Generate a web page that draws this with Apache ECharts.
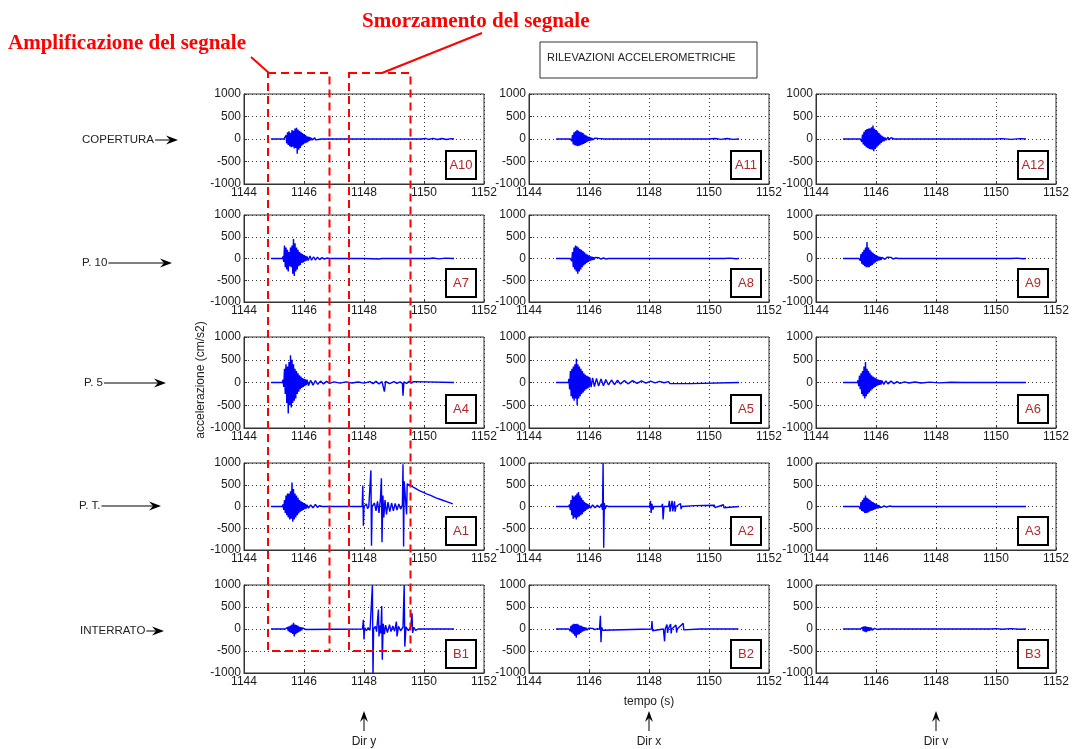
<!DOCTYPE html>
<html><head><meta charset="utf-8">
<script src="https://cdn.jsdelivr.net/npm/echarts@6/dist/echarts.min.js"></script>
<style>html,body{margin:0;padding:0;background:#fff}#c{width:1075px;height:749px}</style>
</head><body><div id="c"></div>
<script>
// ---------------- DATA ----------------
const panelNames = [['A10','A11','A12'],['A7','A8','A9'],['A4','A5','A6'],['A1','A2','A3'],['B1','B2','B3']];
const rowLabels = ['COPERTURA','P. 10','P. 5','P. T.','INTERRATO'];
const dirLabels = ['Dir y','Dir x','Dir v'];
const xMin = 1144, xMax = 1152, xStep = 2;
const yMin = -1000, yMax = 1000, yStep = 500;
const burstDt = 0.025; // sampling step of the strong-motion burst readings (s)

// burst readings (alternating peaks) + start time, and sparse readings [t, a]
const A10_start = 1145.35;
const A10_burst = [30,-40,80,-100,150,-130,170,-160,140,-180,200,-170,180,-210,230,-200,250,-330,210,-240,180,-200,160,-150,130,-120,110,-100,90,-80,60,-70,50,-40,40,-30,25,-20,15,-10];
const A10_pts = [[1144.9,0],[1145.33,0],[1146.36,25],[1146.39,-20],[1146.43,15],[1146.47,-12],[1146.52,10],[1146.58,0],[1149.9,0],[1150.05,12],[1150.15,-10],[1150.3,14],[1150.45,-12],[1150.6,10],[1150.75,-10],[1150.9,8],[1151,0]];

const A11_start = 1145.4;
const A11_burst = [40,-50,90,-120,150,-140,170,-150,200,-160,180,-150,160,-140,150,-120,130,-110,100,-90,80,-70,60,-50,45,-40,35,-30,25,-20,15,-10];
const A11_pts = [[1144.9,0],[1145.38,0],[1146.2,20],[1146.24,-15],[1146.3,12],[1146.36,-10],[1146.42,8],[1146.5,0],[1150.0,0],[1150.2,10],[1150.4,-8],[1150.6,10],[1150.8,-8],[1151,0]];

const A12_start = 1145.5;
const A12_burst = [40,-60,100,-120,160,-150,200,-180,220,-200,230,-220,240,-230,260,-240,300,-270,230,-220,200,-190,170,-150,130,-120,100,-90,70,-60,50,-45];
const A12_pts = [[1144.9,0],[1145.48,0],[1146.3,30],[1146.34,-25],[1146.4,40],[1146.44,-20],[1146.5,30],[1146.55,-10],[1146.6,0],[1150.0,0],[1150.2,8],[1150.5,-8],[1150.8,8],[1151,0]];

const A7_start = 1145.3;
const A7_burst = [50,-80,300,-200,250,-250,200,-300,150,-180,250,-200,300,-350,450,-400,350,-300,250,-250,200,-180,150,-150,120,-100,100,-90,80,-70,60,-50];
const A7_pts = [[1144.9,0],[1145.28,0],[1146.1,50],[1146.14,-45],[1146.2,60],[1146.25,-40],[1146.32,40],[1146.38,-35],[1146.45,30],[1146.52,-25],[1146.6,20],[1146.68,-15],[1146.76,10],[1146.85,0],[1148.0,0],[1148.5,-10],[1148.6,0],[1149.6,0],[1149.65,-10],[1149.7,0],[1150.2,0],[1150.3,10],[1150.5,-8],[1150.7,8],[1151,0]];

const A8_start = 1145.4;
const A8_burst = [40,-60,150,-200,250,-250,300,-300,280,-350,250,-300,220,-250,200,-200,170,-160,140,-130,110,-100,90,-80,70,-60,50,-45,40,-35,30,-25];
const A8_pts = [[1144.9,0],[1145.38,0],[1146.2,25],[1146.25,-20],[1146.32,18],[1146.4,-15],[1146.48,12],[1146.56,-10],[1146.65,0],[1150.5,0],[1150.7,8],[1150.9,-6],[1151,0]];

const A9_start = 1145.45;
const A9_burst = [40,-50,100,-120,150,-150,200,-180,250,-200,380,-200,250,-200,200,-170,160,-150,130,-120,100,-90,80,-70,60,-50,45,-40,35,-30,25,-20];
const A9_pts = [[1144.9,0],[1145.43,0],[1146.25,20],[1146.3,-18],[1146.37,30],[1146.43,-15],[1146.5,25],[1146.57,-12],[1146.65,10],[1146.75,0],[1150.5,0],[1150.7,8],[1150.9,-6],[1151,0]];

const A4_start = 1145.3;
const A4_burst = [60,-100,300,-250,400,-450,350,-680,450,-500,600,-550,500,-450,400,-400,300,-350,250,-250,200,-200,160,-150,130,-120,100,-100,80,-80,70,-60];
const A4_pts = [[1144.9,0],[1145.28,0],[1146.1,60],[1146.15,-70],[1146.22,50],[1146.3,-60],[1146.38,40],[1146.46,-40],[1146.55,30],[1146.65,-30],[1146.75,25],[1146.85,-20],[1147.0,15],[1147.2,-15],[1147.4,15],[1147.6,-12],[1147.8,10],[1148.0,-15],[1148.2,20],[1148.3,-25],[1148.4,25],[1148.5,-30],[1148.6,20],[1148.68,-200],[1148.72,25],[1148.85,-25],[1149.0,20],[1149.1,-20],[1149.2,15],[1149.28,-20],[1149.3,-290],[1149.33,15],[1149.42,-20],[1149.5,25],[1149.58,-15],[1149.65,20],[1149.7,0],[1151,0]];

const A5_start = 1145.33;
const A5_burst = [80,-150,250,-300,300,-350,350,-400,400,-350,520,-500,400,-350,350,-300,300,-250,250,-220,200,-180,170,-150,150,-130,130,-110];
const A5_pts = [[1144.9,0],[1145.31,0],[1146.03,110],[1146.07,-100],[1146.12,100],[1146.18,-90],[1146.25,90],[1146.32,-80],[1146.4,80],[1146.48,-70],[1146.56,65],[1146.65,-55],[1146.75,55],[1146.85,-45],[1146.95,50],[1147.05,-35],[1147.18,45],[1147.3,-30],[1147.45,40],[1147.6,-20],[1147.75,35],[1147.9,-15],[1148.05,30],[1148.2,-10],[1148.35,25],[1148.5,-5],[1148.65,20],[1148.7,-25],[1149.4,-25],[1149.42,0],[1151,0]];

const A6_start = 1145.4;
const A6_burst = [50,-80,150,-150,200,-250,250,-300,350,-350,450,-300,300,-250,250,-220,200,-180,160,-150,130,-120,110,-100,90,-80,70,-60,60,-50,50,-40];
const A6_pts = [[1144.9,0],[1145.38,0],[1146.2,40],[1146.26,-40],[1146.33,35],[1146.4,-30],[1146.5,30],[1146.6,-25],[1146.7,20],[1146.8,-18],[1146.95,15],[1147.1,-12],[1147.3,10],[1147.5,-10],[1147.8,8],[1148.1,-8],[1148.5,6],[1148.9,0],[1151,0]];

const A1_start = 1145.3;
const A1_burst = [50,-80,150,-150,250,-200,300,-250,300,-300,350,-280,550,-350,400,-300,300,-250,250,-200,200,-160,150,-120,120,-100,100,-80,80,-60,60,-50];
const A1_pts = [[1144.9,0],[1145.28,0],[1146.1,40],[1146.15,-40],[1146.22,35],[1146.3,-30],[1146.38,50],[1146.45,-20],[1146.52,20],[1146.6,0],[1147.94,0],[1147.96,480],[1147.98,-440],[1148.0,0],[1148.08,60],[1148.12,-50],[1148.16,0],[1148.23,830],[1148.25,-900],[1148.27,0],[1148.35,80],[1148.4,-100],[1148.45,120],[1148.5,-150],[1148.55,200],[1148.58,650],[1148.6,-820],[1148.63,250],[1148.66,-250],[1148.7,150],[1148.75,-180],[1148.8,100],[1148.86,-120],[1148.92,80],[1148.98,-100],[1149.04,70],[1149.1,-80],[1149.16,60],[1149.22,-60],[1149.28,40],[1149.3,970],[1149.32,-920],[1149.34,580],[1149.4,540],[1149.42,-180],[1149.44,520],[1149.5,500],[1149.6,460],[1149.7,420],[1149.8,380],[1149.9,350],[1150.0,320],[1150.05,350],[1150.08,290],[1150.2,260],[1150.4,200],[1150.6,150],[1150.8,100],[1150.96,60]];

const A2_start = 1145.35;
const A2_burst = [50,-80,150,-200,250,-280,230,-250,260,-300,300,-250,330,-230,250,-200,200,-180,150,-130,110,-100,80,-70,60,-50];
const A2_pts = [[1144.9,0],[1145.33,0],[1146.0,45],[1146.05,-40],[1146.12,35],[1146.2,-30],[1146.28,30],[1146.35,-25],[1146.42,60],[1146.45,-80],[1146.47,1000],[1146.49,-950],[1146.51,80],[1146.54,-60],[1146.58,20],[1146.65,0],[1148.02,0],[1148.05,130],[1148.07,-150],[1148.1,60],[1148.13,-70],[1148.16,0],[1148.42,0],[1148.45,60],[1148.47,-300],[1148.5,0],[1148.65,0],[1148.68,130],[1148.7,-120],[1148.73,0],[1148.77,130],[1148.79,-110],[1148.82,0],[1148.85,120],[1148.87,-120],[1148.9,0],[1149.05,70],[1149.07,-60],[1149.1,0],[1149.52,20],[1149.54,-15],[1149.56,0],[1150.18,30],[1150.2,-25],[1150.22,0],[1150.48,40],[1150.5,-30],[1150.52,0],[1151,0]];

const A3_start = 1145.45;
const A3_burst = [40,-60,100,-100,150,-120,200,-150,250,-150,200,-140,180,-120,150,-100,120,-90,100,-80,80,-60,60,-50,45,-40,30,-25];
const A3_pts = [[1144.9,0],[1145.43,0],[1146.15,20],[1146.2,-18],[1146.27,15],[1146.35,-12],[1146.45,10],[1146.55,0],[1151,0]];

const B1_start = 1145.4;
const B1_burst = [20,-25,40,-50,60,-70,80,-90,100,-110,140,-170,100,-120,90,-90,70,-70,50,-50,40,-30,25,-20];
const B1_pts = [[1144.9,0],[1145.38,0],[1146.0,15],[1146.05,-10],[1146.1,0],[1147.95,0],[1147.98,210],[1148.0,-240],[1148.02,30],[1148.08,-40],[1148.14,30],[1148.2,-30],[1148.26,0],[1148.28,1000],[1148.3,-1100],[1148.32,0],[1148.38,60],[1148.42,-60],[1148.48,440],[1148.5,-170],[1148.53,80],[1148.56,-100],[1148.59,520],[1148.61,-700],[1148.64,120],[1148.68,-120],[1148.72,90],[1148.78,-80],[1148.85,100],[1148.9,-60],[1148.96,70],[1149.02,-50],[1149.08,170],[1149.1,-170],[1149.15,60],[1149.22,-40],[1149.3,40],[1149.34,1000],[1149.36,-400],[1149.4,50],[1149.48,-40],[1149.56,60],[1149.6,360],[1149.62,-90],[1149.66,40],[1149.72,-30],[1149.8,0],[1151,0]];

const B2_start = 1145.35;
const B2_burst = [40,-50,70,-80,100,-110,120,-150,110,-200,120,-130,100,-120,80,-90,70,-60,50,-50,40,-30,30,-25,20,-15];
const B2_pts = [[1144.9,0],[1145.33,0],[1146.0,20],[1146.05,-15],[1146.12,15],[1146.2,-12],[1146.28,10],[1146.35,-8],[1146.38,300],[1146.4,-300],[1146.42,40],[1146.46,-30],[1146.5,0],[1148.08,0],[1148.1,180],[1148.12,-40],[1148.14,0],[1148.48,0],[1148.5,40],[1148.52,-280],[1148.54,0],[1148.6,100],[1148.62,-90],[1148.64,0],[1148.72,110],[1148.74,-100],[1148.76,0],[1148.9,90],[1148.92,-80],[1148.94,0],[1149.14,130],[1149.16,-20],[1149.18,0],[1149.7,0],[1149.72,25],[1149.74,-15],[1149.76,0],[1150.2,0],[1150.22,40],[1150.24,-30],[1150.26,0],[1150.58,0],[1150.6,40],[1150.62,-30],[1150.64,0],[1150.98,0]];

const B3_start = 1145.5;
const B3_burst = [20,-30,40,-50,60,-60,60,-70,50,-50,40,-40,35,-30,30,-25,20,-20,15,-10];
const B3_pts = [[1144.9,0],[1145.48,0],[1146.0,15],[1146.05,-10],[1146.1,10],[1146.15,0],[1149.8,0],[1150.0,8],[1150.2,-6],[1150.5,8],[1150.8,-6],[1151,0]];

// annotation time spans (col 1) and the lower limit of the dashed boxes
const ampSpan = [1144.8, 1146.85];
const smzSpan = [1147.5, 1149.55];
const boxBottomValue = -500;

// ---------------- LAYOUT ----------------
const signals = {
  A10:[A10_start,A10_burst,A10_pts], A11:[A11_start,A11_burst,A11_pts], A12:[A12_start,A12_burst,A12_pts],
  A7:[A7_start,A7_burst,A7_pts], A8:[A8_start,A8_burst,A8_pts], A9:[A9_start,A9_burst,A9_pts],
  A4:[A4_start,A4_burst,A4_pts], A5:[A5_start,A5_burst,A5_pts], A6:[A6_start,A6_burst,A6_pts],
  A1:[A1_start,A1_burst,A1_pts], A2:[A2_start,A2_burst,A2_pts], A3:[A3_start,A3_burst,A3_pts],
  B1:[B1_start,B1_burst,B1_pts], B2:[B2_start,B2_burst,B2_pts], B3:[B3_start,B3_burst,B3_pts]
};
function buildSeries(name){
  const [t0, burst, pts] = signals[name];
  const d = pts.map(p => [p[0], p[1]]);
  burst.forEach((v, i) => d.push([+(t0 + i*burstDt).toFixed(4), v]));
  d.sort((a,b) => a[0]-b[0]);
  return d;
}
const colLeft = [244, 529, 816];
const colW = 240;
const rowTop = [94, 215, 337, 463, 585];
const rowH = [90, 87, 91, 87, 88];
const labelY = [140, 263, 383, 506, 631];
const labelX = [82, 82, 84, 79, 80];
const arrowEnd = [178, 172, 166, 161, 164];
const FONT = 'Liberation Sans, Arial, sans-serif';
const LABEL_FONT = '11.5px ' + FONT;
const numFmt = v => String(v);

const grids = [], xAxes = [], yAxes = [], series = [], graphics = [];
panelNames.forEach((row, r) => row.forEach((name, c) => {
  const i = r*3 + c;
  grids.push({left: colLeft[c], top: rowTop[r], width: colW, height: rowH[r], show: true, borderColor: '#333', borderWidth: 1, backgroundColor: '#fff'});
  xAxes.push({gridIndex: i, type: 'value', min: xMin, max: xMax, interval: xStep,
    axisLine: {show: true, onZero: false, lineStyle: {color: '#333'}},
    axisTick: {show: true, inside: true, length: 3, lineStyle: {color: '#333'}},
    axisLabel: {color: '#1a1a1a', fontSize: 12, margin: 3, fontFamily: FONT, showMinLabel: true, showMaxLabel: true, formatter: numFmt},
    splitLine: {show: true, lineStyle: {type: [1, 3], color: '#333', width: 1}}});
  yAxes.push({gridIndex: i, type: 'value', min: yMin, max: yMax, interval: yStep,
    axisLine: {show: true, onZero: false, lineStyle: {color: '#333'}},
    axisTick: {show: true, inside: true, length: 3, lineStyle: {color: '#333'}},
    axisLabel: {color: '#1a1a1a', fontSize: 12, margin: 3, fontFamily: FONT, showMinLabel: true, showMaxLabel: true, formatter: numFmt},
    splitLine: {show: true, lineStyle: {type: [1, 3], color: '#333', width: 1}}});
  series.push({type: 'line', name, xAxisIndex: i, yAxisIndex: i, data: buildSeries(name),
    showSymbol: false, symbol: 'none', clip: true, silent: true, animation: false,
    lineStyle: {width: 1.4, color: '#0000ff'}, z: 3});
  // station tag box
  const bw = 30, bh = 28;
  const bx = colLeft[c] + colW - 8 - bw, by = rowTop[r] + rowH[r] - 5 - bh;
  graphics.push({type: 'rect', shape: {x: bx, y: by, width: bw, height: bh}, style: {fill: '#fff', stroke: '#000', lineWidth: 2}, z: 10});
  graphics.push({type: 'text', x: bx + bw/2, y: by + bh/2, style: {text: name, fill: '#b0282c', font: '13px ' + FONT, textAlign: 'center', textVerticalAlign: 'middle'}, z: 11});
}));

// row labels with arrows starting right after the text
const mctx = document.createElement('canvas').getContext('2d');
mctx.font = LABEL_FONT;
function arrowH(x0, x1, y){
  graphics.push({type: 'line', shape: {x1: x0, y1: y, x2: x1 - 6, y2: y}, style: {stroke: '#000', lineWidth: 1}});
  graphics.push({type: 'polygon', shape: {points: [[x1, y], [x1 - 12, y - 4.5], [x1 - 8, y], [x1 - 12, y + 4.5]]}, style: {fill: '#000'}});
}
rowLabels.forEach((txt, r) => {
  graphics.push({type: 'text', x: labelX[r], y: labelY[r], style: {text: txt, fill: '#222', font: LABEL_FONT, textVerticalAlign: 'middle'}, z: 5});
  arrowH(labelX[r] + mctx.measureText(txt).width + 1, arrowEnd[r], labelY[r]);
});

// direction arrows
dirLabels.forEach((t, c) => {
  const x = colLeft[c] + colW/2;
  graphics.push({type: 'line', shape: {x1: x, y1: 731, x2: x, y2: 716}, style: {stroke: '#000', lineWidth: 1}});
  graphics.push({type: 'polygon', shape: {points: [[x, 711], [x - 4, 722], [x, 718], [x + 4, 722]]}, style: {fill: '#000'}});
  graphics.push({type: 'text', x: x, y: 736, style: {text: t, fill: '#222', font: '12px ' + FONT, textAlign: 'center', textVerticalAlign: 'top'}});
});

// texts
graphics.push({type: 'text', x: 649, y: 702, style: {text: 'tempo (s)', fill: '#222', font: '12px ' + FONT, textAlign: 'center', textVerticalAlign: 'middle'}});
graphics.push({type: 'text', x: 201, y: 380, rotation: Math.PI/2, style: {text: 'accelerazione (cm/s2)', fill: '#222', font: '12px ' + FONT, textAlign: 'center', textVerticalAlign: 'middle'}});
graphics.push({type: 'rect', shape: {x: 540, y: 42, width: 217, height: 36}, style: {fill: '#fff', stroke: '#333', lineWidth: 1}});
graphics.push({type: 'text', x: 547, y: 58, style: {text: 'RILEVAZIONI ACCELEROMETRICHE', fill: '#222', font: '11px ' + FONT, textVerticalAlign: 'middle'}});
graphics.push({type: 'text', x: 8, y: 44, style: {text: 'Amplificazione del segnale', fill: '#ff0000', font: 'bold 21px Liberation Serif, Times New Roman, serif', textVerticalAlign: 'middle'}});
graphics.push({type: 'text', x: 362, y: 22, style: {text: 'Smorzamento del segnale', fill: '#ff0000', font: 'bold 21px Liberation Serif, Times New Roman, serif', textVerticalAlign: 'middle'}});

const chart = echarts.init(document.getElementById('c'), null, {renderer: 'canvas'});
chart.setOption({animation: false, backgroundColor: '#fff', grid: grids, xAxis: xAxes, yAxis: yAxes, series, graphic: graphics});

// red dashed annotation boxes tied to the axes of the lower-left panel
const ref = {xAxisIndex: 12, yAxisIndex: 12};
const boxTop = 73;
const red = [];
[ampSpan, smzSpan].forEach(sp => {
  const p0 = chart.convertToPixel(ref, [sp[0], boxBottomValue]);
  const p1 = chart.convertToPixel(ref, [sp[1], boxBottomValue]);
  red.push({type: 'rect', shape: {x: p0[0], y: boxTop, width: p1[0] - p0[0], height: p0[1] - boxTop},
    style: {fill: 'none', stroke: '#ff0000', lineWidth: 2, lineDash: [8, 5]}, z: 20});
});
const a0 = chart.convertToPixel(ref, [ampSpan[0], 0]);
const s0 = chart.convertToPixel(ref, [smzSpan[0], 0]);
red.push({type: 'line', shape: {x1: 251, y1: 57, x2: a0[0] + 1, y2: boxTop}, style: {stroke: '#ff0000', lineWidth: 2}, z: 20});
red.push({type: 'line', shape: {x1: 482, y1: 33, x2: s0[0] + 33, y2: boxTop}, style: {stroke: '#ff0000', lineWidth: 2}, z: 20});
chart.setOption({graphic: graphics.concat(red)});
</script>
</body></html>
